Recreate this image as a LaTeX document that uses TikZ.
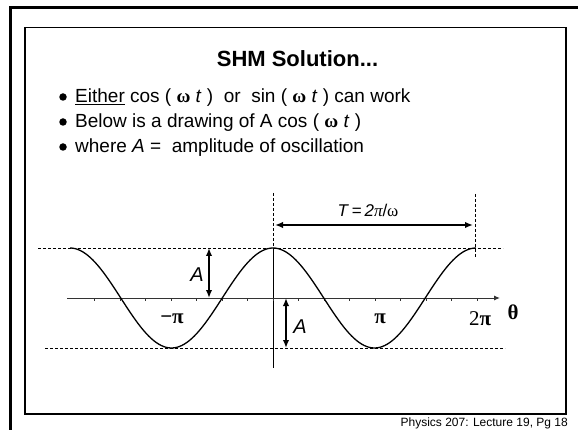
\documentclass[tikz,border=0pt]{standalone}
\usepackage{fontspec}
\setmainfont{Liberation Sans}
\newfontfamily\grk{Liberation Serif}
\usetikzlibrary{arrows.meta}
\pgfdeclarelayer{edgelayer}
\pgfdeclarelayer{nodelayer}
\pgfsetlayers{edgelayer,nodelayer,main}
\tikzstyle{guide}=[draw=black, line width=0.7pt, dash pattern=on 3pt off 2pt]
\tikzstyle{wave}=[draw=black, line width=1.3pt]
\tikzstyle{axis}=[draw=black!80, line width=1pt, -{Latex[length=6pt,width=5pt]}]
\tikzstyle{dimline}=[draw=black, line width=2pt, {Latex[length=8pt,width=6.5pt]}-{Latex[length=8pt,width=6.5pt]}]
\tikzstyle{bodytext}=[anchor=base west, inner sep=0pt, font=\fontsize{19}{23}\selectfont]
\tikzstyle{greek}=[inner sep=0pt, font=\fontsize{21}{25}\selectfont\grk\bfseries]
\tikzstyle{dot}=[circle, fill=black, inner sep=0pt, minimum size=7.5pt]
\newcommand{\om}{{\grk\bfseries ω}}

\begin{document}
\begin{tikzpicture}[x=1pt, y=-1pt]
				\useasboundingbox (0,0) rectangle (578,430);
				\begin{pgfonlayer}{nodelayer}
					\node [anchor=base, inner sep=0pt, font=\fontsize{22}{26}\selectfont\bfseries] (title) at (297.5, 67) {SHM Solution...};
					\node [style=dot] (b1) at (63, 97) {};
					\node [style=dot] (b2) at (63, 122) {};
					\node [style=dot] (b3) at (63, 147) {};
					\node [style=bodytext] (l1) at (75, 103) {\underline{Either} cos ( \om\ \textit{t} )\ \ or\ \ sin ( \om\ \textit{t} ) can work};
					\node [style=bodytext] (l2) at (75, 128) {Below is a drawing of A cos ( \om\ \textit{t} )};
					\node [style=bodytext] (l3) at (75, 153) {where \textit{A} =\ \ amplitude of oscillation};
					\node [inner sep=0pt, font=\fontsize{17}{20}\selectfont] (period) at (368, 210) {\textit{T}\,=\,\textit{2}{\grk\itshape π}/{\grk ω}};
					\node [inner sep=0pt, font=\fontsize{20}{24}\selectfont\itshape] (amp1) at (197, 275) {A};
					\node [inner sep=0pt, font=\fontsize{20}{24}\selectfont\itshape] (amp2) at (300, 327) {A};
					\node [style=greek] (mpi) at (172, 319) {−π};
					\node [style=greek] (pi) at (380, 319) {π};
					\node [style=greek] (twopi) at (480, 319) {{\mdseries 2}π};
					\node [style=greek] (theta) at (513, 312) {θ};
					\node [anchor=base east, inner sep=0pt, font=\fontsize{12}{14}\selectfont] (footer) at (568, 426) {Physics 207: Lecture 19, Pg 18};
				\end{pgfonlayer}
				\coordinate (peak) at (273, 248);
				\coordinate (origin) at (273, 298);
				\coordinate (trough) at (273, 348);
				\coordinate (axstart) at (67, 298);
				\coordinate (axend) at (500, 298);
				\coordinate (tleft) at (275, 225);
				\coordinate (tright) at (473, 225);
				\coordinate (a1top) at (209, 248);
				\coordinate (a1bot) at (209, 298);
				\coordinate (a2top) at (286, 298);
				\coordinate (a2bot) at (286, 348);
				\begin{pgfonlayer}{edgelayer}
					% frames
					\draw [line width=2.6pt] (10.3, 430) -- (10.3, 7.3) -- (578, 7.3);
					\draw [line width=1.2pt] (25, 27.3) rectangle (566, 414);
					% guides
					\draw [style=guide] (38, 248) -- (503, 248);
					\draw [style=guide] (45, 348) -- (505, 348);
					\draw [style=guide] (273, 193) -- (peak);
					\draw [style=guide] (475, 194) -- (475, 258);
					\draw [line width=0.8pt] (peak) -- (273, 368);
					% axis
					\draw [style=axis] (axstart) -- (axend);
					\foreach \k in {-7,...,8}
						\draw [draw=black!80, line width=0.8pt] (273+25.5*\k, 298) -- ++(0, 3);
					\draw [style=wave] plot [domain=-2:2, samples=161, smooth] ({273+101.5*\x}, {298-50*cos(180*\x)});
					% dimensions
					\draw [style=dimline] (tleft) to (tright);
					\draw [style=dimline] (a1top) to (a1bot);
					\draw [style=dimline] (a2top) to (a2bot);
				\end{pgfonlayer}
			\end{tikzpicture}
\end{document}
